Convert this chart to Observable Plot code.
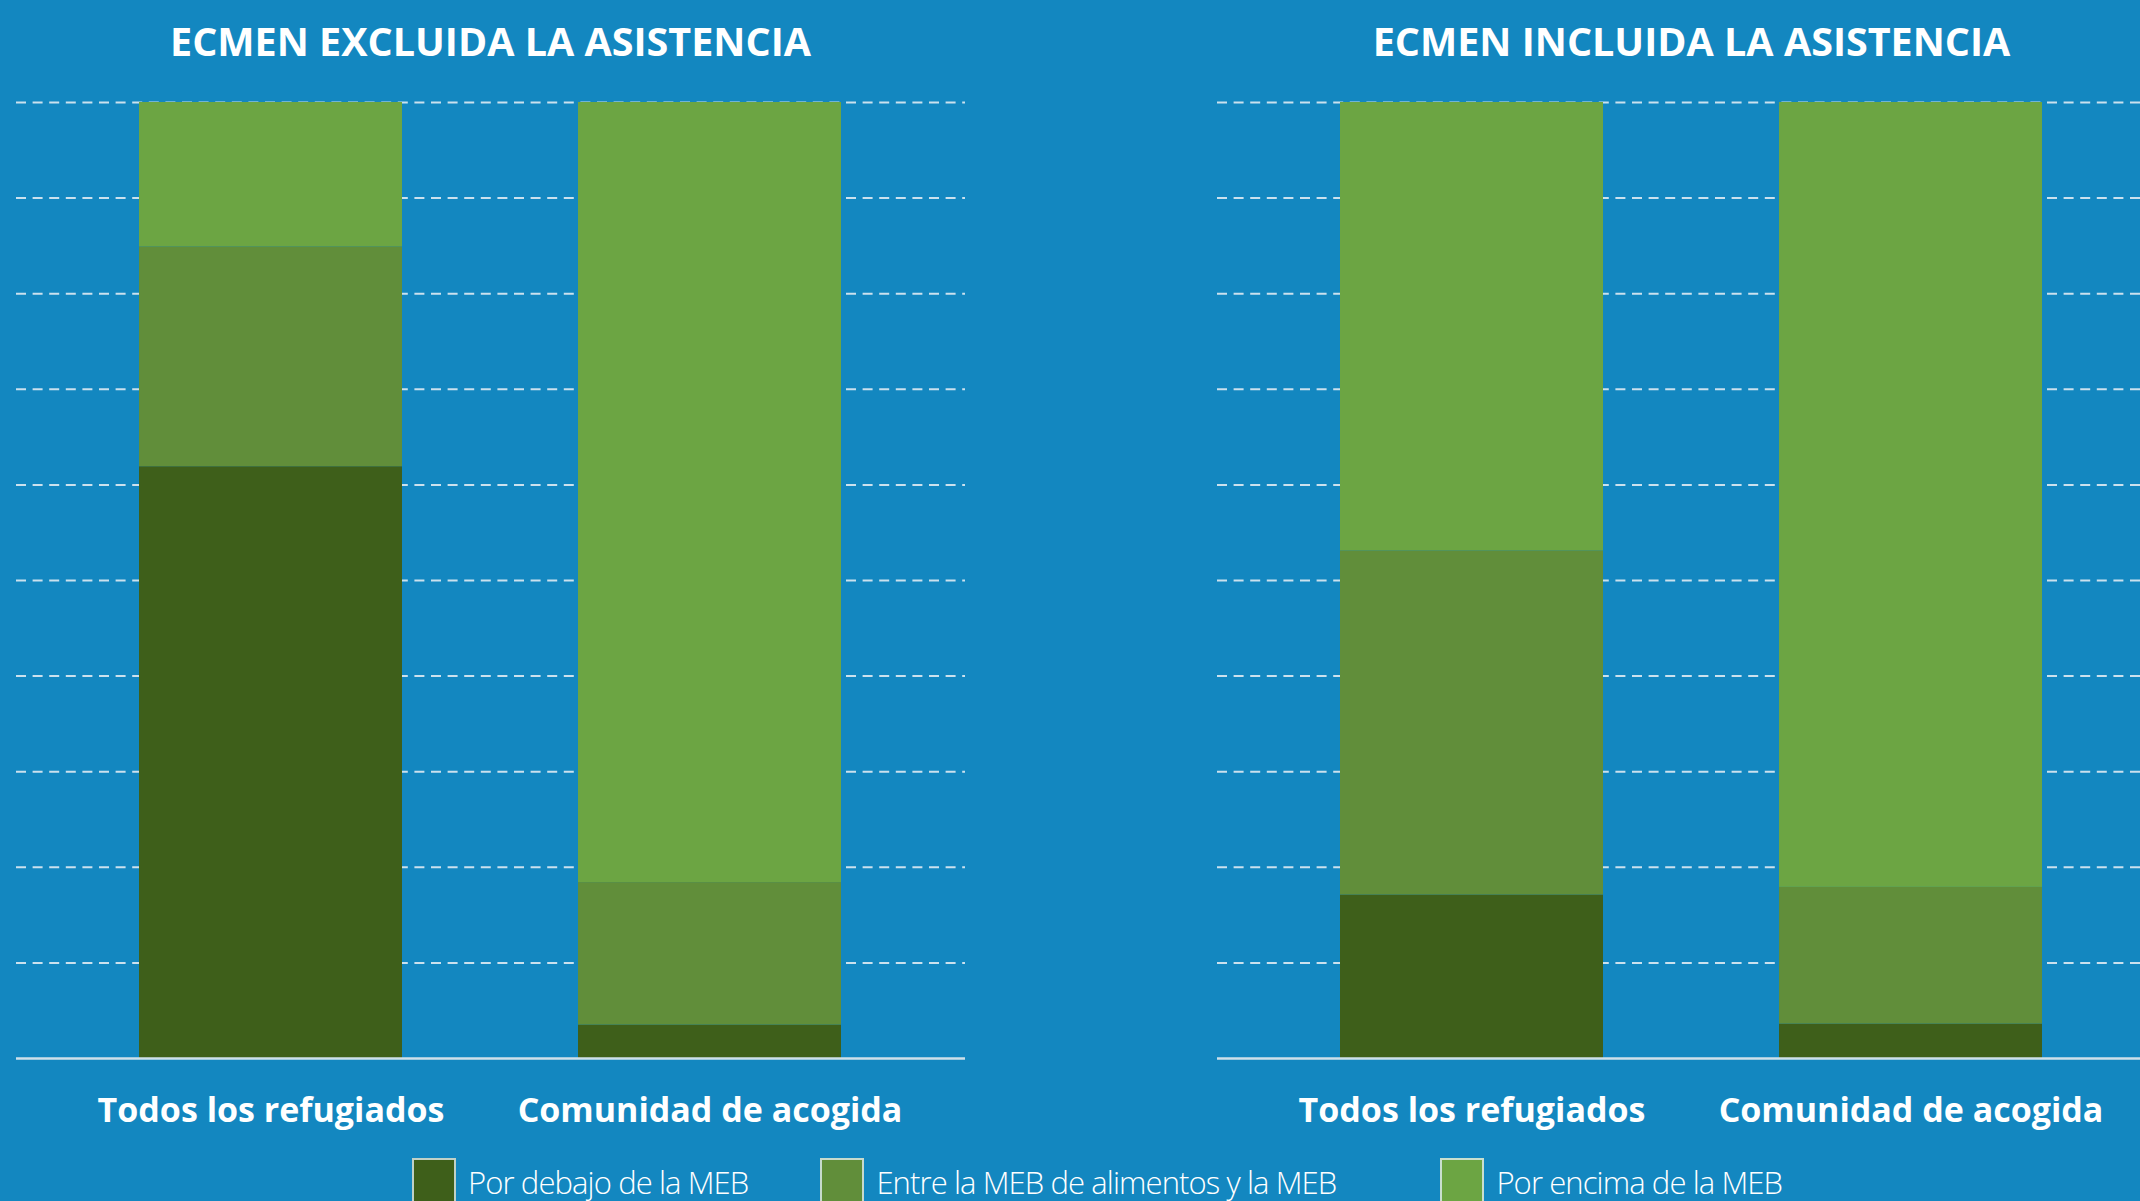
<!DOCTYPE html>
<html>
<head>
<meta charset="utf-8">
<script src="https://cdn.jsdelivr.net/npm/d3@7"></script>
<script src="https://cdn.jsdelivr.net/npm/@observablehq/plot@0.6"></script>
<style>
  html, body { margin: 0; padding: 0; background: #1387c0; }
  body { width: 2140px; height: 1201px; overflow: hidden; position: relative; font-family: "Open Sans", sans-serif; }
  .panel { position: absolute; top: 0; width: 949px; height: 1201px; }
  .title { position: absolute; top: 13px; left: 0; width: 949px; text-align: center; color: #fff;
           font-weight: 700; font-size: 39.5px; line-height: 56px; white-space: nowrap; }
  .title span { display: inline-block; }
  .panel svg { position: absolute; top: 0; left: 0; }
  .panel svg text { font-weight: 700; }
  .legend { position: absolute; top: 1158px; left: 412px; display: flex; align-items: flex-start; }
  .item { display: flex; align-items: flex-start; }
  .item:nth-child(1) { margin-right: 72px; }
  .item:nth-child(2) { margin-right: 104px; }
  .sw { width: 44px; height: 50px; border: 2px solid rgba(225,238,242,0.8); box-sizing: border-box; }
  .lab { color: #fff; font-size: 31px; font-weight: 300; letter-spacing: -0.9px; line-height: 40px;
         margin-left: 12px; margin-top: 4px; white-space: nowrap; }
</style>
</head>
<body>
<div id="left" class="panel" style="left:16px"></div>
<div id="right" class="panel" style="left:1217px"></div>
<div id="legend" class="legend"></div>
<script>
// ---- data ----
const panelTitles = ["ECMEN EXCLUIDA LA ASISTENCIA", "ECMEN INCLUIDA LA ASISTENCIA"];
const categories = ["Todos los refugiados", "Comunidad de acogida"];
const levels = ["Por debajo de la MEB", "Entre la MEB de alimentos y la MEB", "Por encima de la MEB"];
const levelColors = ["#3e5f1a", "#618e3a", "#6ca543"];
// percentages per category (Todos los refugiados, Comunidad de acogida)
const excluidaDebajo = [61.9, 3.5];
const excluidaEntre  = [23.0, 14.9];
const excluidaEncima = [15.1, 81.6];
const incluidaDebajo = [17.1, 3.6];
const incluidaEntre  = [36.0, 14.3];
const incluidaEncima = [46.9, 82.1];
const gridTicks = [10, 20, 30, 40, 50, 60, 70, 80, 90, 100];

function drawPanel(el, title, debajo, entre, encima) {
  const rows = [];
  categories.forEach((c, i) => {
    rows.push({cat: c, nivel: levels[0], v: debajo[i]});
    rows.push({cat: c, nivel: levels[1], v: entre[i]});
    rows.push({cat: c, nivel: levels[2], v: encima[i]});
  });
  const t = document.createElement("div");
  t.className = "title";
  const s = document.createElement("span");
  s.textContent = title;
  t.appendChild(s);
  el.appendChild(t);
  const chart = Plot.plot({
    width: 949, height: 1201,
    marginLeft: 0, marginRight: 0, marginTop: 102, marginBottom: 143,
    x: {domain: categories, paddingInner: 0.4, paddingOuter: 0.28, label: null, tickSize: 0, tickPadding: 39},
    y: {domain: [0, 100], axis: null},
    color: {domain: levels, range: levelColors},
    style: {background: "transparent", color: "#fff", fontFamily: "Open Sans", fontSize: "34px", overflow: "visible"},
    marks: [
      Plot.ruleY(gridTicks, {stroke: "#cbe1ee", strokeWidth: 2, strokeDasharray: "10,6.6"}),
      Plot.barY(rows, {x: "cat", y: "v", fill: "nivel"}),
      Plot.ruleY([0], {stroke: "#cfe0ea", strokeWidth: 2.5})
    ]
  });
  el.appendChild(chart);
}

drawPanel(document.getElementById("left"), panelTitles[0], excluidaDebajo, excluidaEntre, excluidaEncima);
drawPanel(document.getElementById("right"), panelTitles[1], incluidaDebajo, incluidaEntre, incluidaEncima);

const lg = document.getElementById("legend");
levels.forEach((l, i) => {
  const it = document.createElement("div");
  it.className = "item";
  const sw = document.createElement("div");
  sw.className = "sw";
  sw.style.background = levelColors[i];
  const lb = document.createElement("div");
  lb.className = "lab";
  lb.textContent = l;
  it.appendChild(sw); it.appendChild(lb);
  lg.appendChild(it);
});
</script>
</body>
</html>
